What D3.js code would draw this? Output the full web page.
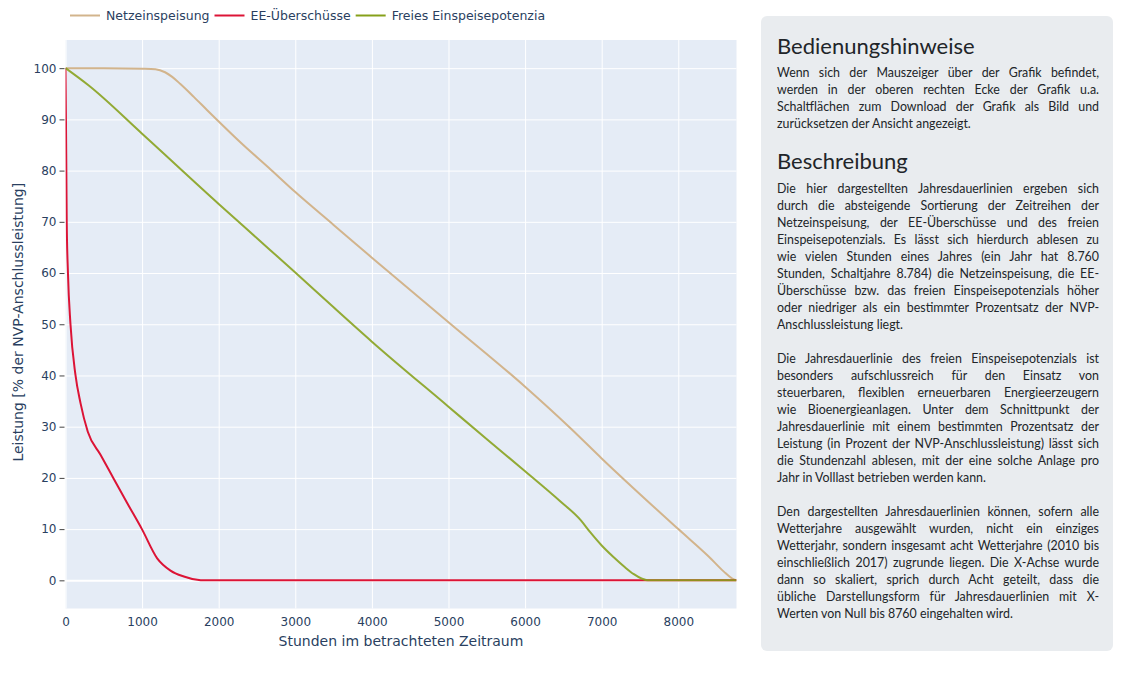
<!DOCTYPE html>
<html>
<head>
<meta charset="utf-8">
<script src="https://cdn.jsdelivr.net/npm/d3@7"></script>
<style>
  html, body { margin: 0; padding: 0; background: #fff; }
  body { width: 1124px; height: 691px; position: relative; overflow: hidden; }
  #chart { position: absolute; left: 0; top: 0; }
  #panel {
    position: absolute; left: 761px; top: 16px; width: 352px; height: 635px;
    background: #e9ecef; border-radius: 6px; box-sizing: border-box;
    font-family: Lato, "Noto Sans", sans-serif; color: #212529;
  }
  .h { position: absolute; left: 16px; font-size: 22px; line-height: 26px; white-space: nowrap; }
  .blk { position: absolute; left: 16px; width: 322px; font-size: 12.4px; line-height: 17px; }
  .ln { text-align: justify; text-align-last: justify; white-space: nowrap; }
  .ln.last { text-align-last: left; }
  .gap { height: 17px; }
</style>
</head>
<body>
<svg id="chart" width="760" height="691"></svg>
<div id="panel"></div>
<script>
// ---- data ----
const seriesNames = ["Netzeinspeisung", "EE-Überschüsse", "Freies Einspeisepotenzia"];
const netzHours  = [0, 500, 1000, 1175, 1300, 1393, 1500, 1675, 1850, 2000, 2300, 2650, 3000, 3500, 4000, 5000, 6000, 6600, 7000, 8000, 8400, 8595, 8700, 8760];
const netzValues = [100, 100, 99.9, 99.8, 99.2, 98.3, 96.9, 94.4, 91.8, 89.6, 85.3, 80.6, 75.8, 69.4, 63.0, 50.4, 37.8, 29.6, 23.8, 10.0, 4.6, 1.7, 0.4, 0];
const eeHours  = [0, 6, 11, 16, 32, 65, 130, 196, 291, 457, 631, 805, 1001, 1197, 1371, 1545, 1720, 1800, 8760];
const eeValues = [100, 90, 80, 70, 60, 50, 40.1, 34.6, 29.0, 24.5, 19.8, 15.1, 9.9, 4.3, 1.9, 0.75, 0.1, 0, 0];
const freiHours  = [0, 304, 1000, 2000, 2500, 3000, 3500, 4000, 5000, 5505, 6000, 6462, 6723, 6850, 7000, 7150, 7300, 7420, 7520, 7600, 8760];
const freiValues = [100, 96.6, 87.2, 73.5, 66.8, 60.1, 53.3, 46.6, 33.9, 27.5, 21.3, 15.4, 11.8, 9.4, 6.8, 4.6, 2.6, 1.2, 0.35, 0, 0];
const seriesColors = ["#d2b48c", "#dc1436", "#86a01a"];
const xTicks = [0, 1000, 2000, 3000, 4000, 5000, 6000, 7000, 8000];
const yTicks = [0, 10, 20, 30, 40, 50, 60, 70, 80, 90, 100];
const xTitle = "Stunden im betrachteten Zeitraum";
const yTitle = "Leistung [% der NVP-Anschlussleistung]";

const panelTitle1 = "Bedienungshinweise";
const panelPara1 = [
  "Wenn sich der Mauszeiger über der Grafik befindet,",
  "werden in der oberen rechten Ecke der Grafik u.a.",
  "Schaltflächen zum Download der Grafik als Bild und",
  "zurücksetzen der Ansicht angezeigt."
];
const panelTitle2 = "Beschreibung";
const panelPara2 = [
  "Die hier dargestellten Jahresdauerlinien ergeben sich",
  "durch die absteigende Sortierung der Zeitreihen der",
  "Netzeinspeisung, der EE-Überschüsse und des freien",
  "Einspeisepotenzials. Es lässt sich hierdurch ablesen zu",
  "wie vielen Stunden eines Jahres (ein Jahr hat 8.760",
  "Stunden, Schaltjahre 8.784) die Netzeinspeisung, die EE-",
  "Überschüsse bzw. das freien Einspeisepotenzials höher",
  "oder niedriger als ein bestimmter Prozentsatz der NVP-",
  "Anschlussleistung liegt."
];
const panelPara3 = [
  "Die Jahresdauerlinie des freien Einspeisepotenzials ist",
  "besonders aufschlussreich für den Einsatz von",
  "steuerbaren, flexiblen erneuerbaren Energieerzeugern",
  "wie Bioenergieanlagen. Unter dem Schnittpunkt der",
  "Jahresdauerlinie mit einem bestimmten Prozentsatz der",
  "Leistung (in Prozent der NVP-Anschlussleistung) lässt sich",
  "die Stundenzahl ablesen, mit der eine solche Anlage pro",
  "Jahr in Volllast betrieben werden kann."
];
const panelPara4 = [
  "Den dargestellten Jahresdauerlinien können, sofern alle",
  "Wetterjahre ausgewählt wurden, nicht ein einziges",
  "Wetterjahr, sondern insgesamt acht Wetterjahre (2010 bis",
  "einschließlich 2017) zugrunde liegen. Die X-Achse wurde",
  "dann so skaliert, sprich durch Acht geteilt, dass die",
  "übliche Darstellungsform für Jahresdauerlinien mit X-",
  "Werten von Null bis 8760 eingehalten wird."
];

// ---- chart ----
const svg = d3.select("#chart");
const font = "'DejaVu Sans', Verdana, sans-serif";
const textColor = "#2a3f5f";
const plot = { left: 65.5, right: 736.5, top: 40, bottom: 608.5 };
const x = d3.scaleLinear().domain([0, 8760]).range([plot.left, plot.right]);
const y = d3.scaleLinear().domain([-5.5, 105.5]).range([plot.bottom, plot.top]);

svg.append("rect").attr("x", plot.left).attr("y", plot.top)
  .attr("width", plot.right - plot.left).attr("height", plot.bottom - plot.top)
  .attr("fill", "#e5ecf6");

// grid
const gx = d3.axisBottom(x).tickValues(xTicks).tickSize(-(plot.bottom - plot.top)).tickFormat("");
svg.append("g").attr("transform", `translate(0,${plot.bottom})`).call(gx)
  .call(g => g.select(".domain").remove())
  .call(g => g.selectAll("line").attr("stroke", "#fff").attr("stroke-width", 1));
const gy = d3.axisLeft(y).tickValues(yTicks).tickSize(-(plot.right - plot.left)).tickFormat("");
svg.append("g").attr("transform", `translate(${plot.left},0)`).call(gy)
  .call(g => g.select(".domain").remove())
  .call(g => g.selectAll("line").attr("stroke", "#fff").attr("stroke-width", d => d === 0 ? 2 : 1));

// axes labels
const ax = d3.axisBottom(x).tickValues(xTicks).tickSize(0).tickPadding(9).tickFormat(d3.format("d"));
svg.append("g").attr("transform", `translate(0,${plot.bottom})`).call(ax)
  .call(g => g.select(".domain").remove())
  .call(g => g.selectAll("text").attr("fill", textColor).style("font-family", font).style("font-size", "12px"));
const ay = d3.axisLeft(y).tickValues(yTicks).tickSize(5).tickPadding(3).tickFormat(d3.format("d"));
svg.append("g").attr("transform", `translate(${plot.left - 1},0)`).call(ay)
  .call(g => g.select(".domain").remove())
  .call(g => g.selectAll("line").attr("stroke", "#444"))
  .call(g => g.selectAll("text").attr("fill", textColor).style("font-family", font).style("font-size", "12px"));

svg.append("text").attr("x", (plot.left + plot.right) / 2).attr("y", 646)
  .attr("text-anchor", "middle").attr("fill", textColor)
  .style("font-family", font).style("font-size", "14px").text(xTitle);
svg.append("text").attr("transform", `translate(23,${(plot.top + plot.bottom) / 2 - 2}) rotate(-90)`)
  .attr("text-anchor", "middle").attr("fill", textColor)
  .style("font-family", font).style("font-size", "14px").text(yTitle);

// lines
svg.append("clipPath").attr("id", "clip").append("rect")
  .attr("x", plot.left).attr("y", plot.top).attr("width", plot.right - plot.left).attr("height", plot.bottom - plot.top);
const line = d3.line().x(d => x(d[0])).y(d => y(d[1])).curve(d3.curveMonotoneX);
const series = [
  { name: seriesNames[0], color: seriesColors[0], pts: d3.zip(netzHours, netzValues), op: 1 },
  { name: seriesNames[1], color: seriesColors[1], pts: d3.zip(eeHours, eeValues), op: 1 },
  { name: seriesNames[2], color: seriesColors[2], pts: d3.zip(freiHours, freiValues), op: 0.88 }
];
const lg = svg.append("g").attr("clip-path", "url(#clip)");
series.forEach(s => {
  lg.append("path").attr("d", line(s.pts)).attr("fill", "none")
    .attr("stroke", s.color).attr("stroke-width", 2).attr("stroke-opacity", s.op)
    .attr("stroke-linejoin", "round");
});

// legend
let lx = 70;
const legend = svg.append("g");
series.forEach(s => {
  legend.append("line").attr("x1", lx).attr("x2", lx + 30).attr("y1", 15.5).attr("y2", 15.5)
    .attr("stroke", s.color).attr("stroke-width", 2);
  const t = legend.append("text").attr("x", lx + 36).attr("y", 20).attr("fill", textColor)
    .style("font-family", font).style("font-size", "12.5px").text(s.name);
  lx = lx + 36 + t.node().getComputedTextLength() + 5;
});

// ---- panel ----
const panel = d3.select("#panel");
function heading(txt, cy) {
  panel.append("div").attr("class", "h").style("top", (cy - 13 - 16) + "px").text(txt);
}
function block(paras, cy) {
  const b = panel.append("div").attr("class", "blk").style("top", (cy - 8.5 - 16) + "px");
  paras.forEach((p, pi) => {
    if (pi > 0) b.append("div").attr("class", "gap");
    p.forEach((l, i) => b.append("div").attr("class", "ln" + (i === p.length - 1 ? " last" : "")).text(l));
  });
}
heading(panelTitle1, 46);
block([panelPara1], 72);
heading(panelTitle2, 161);
block([panelPara2, panelPara3, panelPara4], 188);
</script>
</body>
</html>
